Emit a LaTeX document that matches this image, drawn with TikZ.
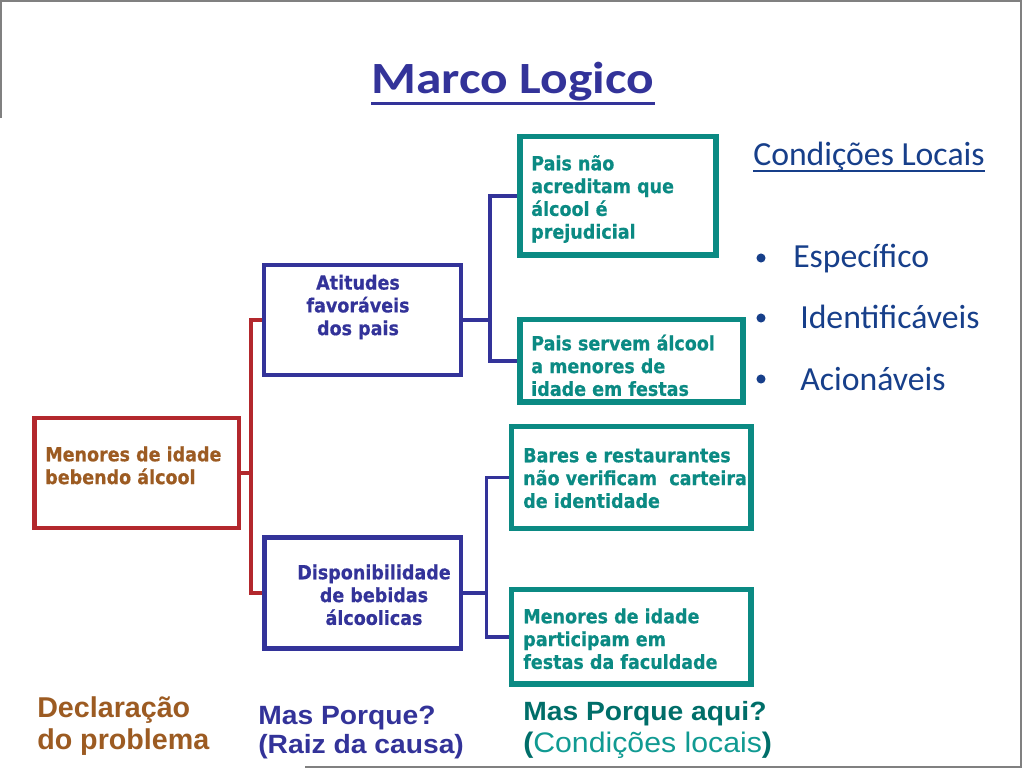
\documentclass[tikz,border=0pt]{standalone}
\usepackage{fontspec}
\setmainfont{DejaVu Sans}
\newfontfamily\boxf{DejaVu Sans}[FakeStretch=0.9,FakeBold=0.6]
\newfontfamily\titlef{Carlito}[FakeStretch=1.15]
\newfontfamily\calf{Carlito}
\newfontfamily\arialf{Liberation Sans}
\newfontfamily\arialw{Liberation Sans}[FakeStretch=1.07]
\usetikzlibrary{calc}
\definecolor{titleblue}{HTML}{333399}
\definecolor{redc}{HTML}{B3282D}
\definecolor{brownc}{HTML}{9C5B22}
\definecolor{bluec}{HTML}{333399}
\definecolor{tealc}{HTML}{0B8A83}
\definecolor{tealdark}{HTML}{006E69}
\definecolor{teallight}{HTML}{109A92}
\definecolor{navy}{HTML}{173F8A}
\definecolor{framegray}{HTML}{808080}
\newcommand\tstr[1]{\rule{0pt}{#1}}
\begin{document}
\begin{tikzpicture}[x=0.75pt,y=-0.75pt,
  redbox/.style={draw=redc, line width=3.5pt, inner sep=0pt},
  bluebox/.style={draw=bluec, line width=3.3pt, inner sep=0pt},
  tealbox/.style={draw=tealc, line width=4pt, inner sep=0pt},
  sz/.style 2 args={minimum width=#1*0.75pt, minimum height=#2*0.75pt},
  boxtxt/.style={font=\boxf\bfseries\fontsize{14.6}{17.1}\selectfont, inner sep=0pt},
  redline/.style={draw=redc, line width=2.4pt},
  blueline/.style={draw=bluec, line width=2.8pt},
  calt/.style={font=\calf\fontsize{25.3}{30}\selectfont, text=navy, inner sep=0pt, anchor=base west},
]
\useasboundingbox (0,0) rectangle (1024,768);
% frame
\draw[framegray, line width=1.5pt] (0.7,118) -- (0.7,0.7) -- (1021,0.7) -- (1021,767) -- (305,767);

% title
\node[font=\titlef\bfseries\fontsize{33.5}{40}\selectfont, text=titleblue, inner sep=0pt, anchor=base] (title) at (513,93) {Marco Logico};
\draw[titleblue, line width=2.25pt] ($(title.base west)+(0,10)$) -- ($(title.base east)+(0,10)$);

% boxes
\node[redbox, sz={204.5}{110}] (red) at (136.75,473) {};
\node[bluebox, sz={196.7}{110.3}] (b1) at (362.6,319.9) {};
\node[bluebox, sz={196.5}{111}] (b2) at (362.75,593) {};
\node[tealbox, sz={196}{118.5}] (t1) at (618,195.75) {};
\node[tealbox, sz={223}{82.5}] (t2) at (631.5,360.75) {};
\node[tealbox, sz={239.5}{102}] (t3) at (631.25,477.5) {};
\node[tealbox, sz={239.5}{94.5}] (t4) at (631.25,636.75) {};

% box texts
\node[boxtxt, text=brownc, anchor=north west, align=left] (redtxt) at (45,441) {\tstr{15pt}Menores de idade\\bebendo álcool};
\node[boxtxt, text=bluec, anchor=north, align=center] (b1txt) at (358,269.3) {\tstr{15pt}Atitudes\\favoráveis\\dos pais};
\node[boxtxt, text=bluec, anchor=north, align=center] (b2txt) at (374,559) {\tstr{15pt}Disponibilidade\\de bebidas\\álcoolicas};
\node[boxtxt, text=tealc, anchor=north west, align=left] (t1txt) at (531,150) {\tstr{15pt}Pais não\\acreditam que\\álcool é\\prejudicial};
\node[boxtxt, text=tealc, anchor=north west, align=left] (t2txt) at (531,330) {\tstr{15pt}Pais servem álcool\\a menores de\\idade em festas};
\node[boxtxt, text=tealc, anchor=north west, align=left] (t3txt) at (523,442) {\tstr{15pt}Bares e restaurantes\\não verificam\ \ carteira\\de identidade};
\node[boxtxt, text=tealc, anchor=north west, align=left] (t4txt) at (523,603) {\tstr{15pt}Menores de idade\\participam em\\festas da faculdade};

% connectors
\coordinate (rj) at (251,473);
\coordinate (bj1) at (490,319.9);
\coordinate (bj2) at (486.5,593);
\draw[redline] (red.east) -- (rj);
\draw[redline] (b1.west) -| (rj) |- (b2.west);
\draw[blueline] (b1.east) -- (bj1);
\draw[blueline] (t1.west) -| (bj1) |- (t2.west);
\draw[blueline] (b2.east) -- (bj2);
\draw[blueline] (t3.west) -| (bj2) |- (t4.west);

% right side list
\node[calt] (cl) at (753,165) {Condições Locais};
\draw[navy, line width=1.5pt] ($(cl.base west)+(0,6)$) -- ($(cl.base east)+(0,6)$);
\fill[navy] (761,258) circle (3.4pt);
\fill[navy] (761,318) circle (3.4pt);
\fill[navy] (761,379) circle (3.4pt);
\node[calt] (e1) at (793,267) {Específico};
\node[calt] (e2) at (800,328) {Identificáveis};
\node[calt] (e3) at (800,390) {Acionáveis};

% bottom labels
\node[font=\arialf\bfseries\fontsize{21.5}{24}\selectfont, text=brownc, anchor=north west, align=left, inner sep=0pt] (decl) at (37,690.3) {\tstr{20pt}Declaração\\do problema};
\node[font=\arialw\bfseries\fontsize{19.8}{21.75}\selectfont, text=bluec, anchor=north west, align=left, inner sep=0pt] (mp) at (258,697.3) {\tstr{20pt}Mas Porque?\\(Raiz da causa)};
\node[font=\arialw\bfseries\fontsize{19.8}{22}\selectfont, text=tealdark, anchor=base west, inner sep=0pt] (mpa) at (523,720) {Mas Porque aqui?};
\node[font=\arialw\fontsize{21.2}{24}\selectfont, anchor=base west, inner sep=0pt] (clb) at (523,752) {\textcolor{tealdark}{\bfseries(}\textcolor{teallight}{Condições locais}\textcolor{tealdark}{\bfseries)}};
\end{tikzpicture}
\end{document}
